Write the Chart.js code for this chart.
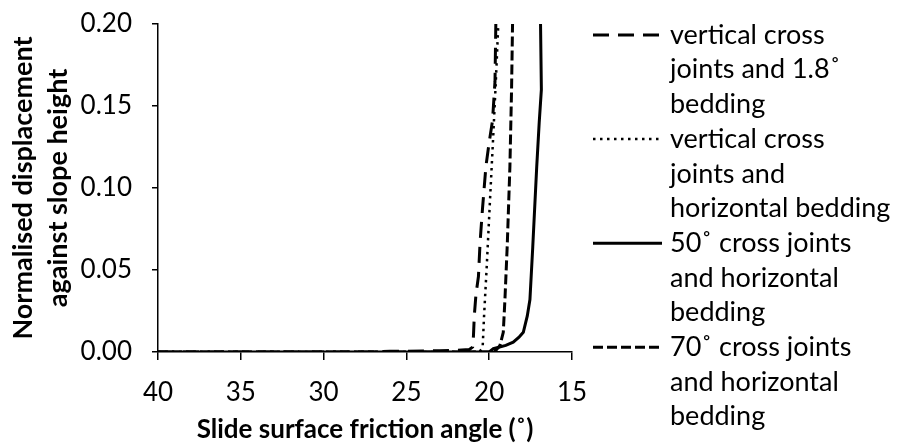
<!DOCTYPE html>
<html>
<head>
<meta charset="utf-8">
<script src="https://cdn.jsdelivr.net/npm/chart.js@4.4.1/dist/chart.umd.min.js"></script>
<style>
    html, body { margin: 0; padding: 0; background: #fff; }
</style>
</head>
<body>
<canvas id="myChart" width="898" height="448"></canvas>
<script>
// friction angle (deg) / normalised displacement
const angles1 = [40, 27, 26, 25, 24, 23, 22, 21.2, 21.0, 20.95, 20.9, 20.8, 20.65, 20.55, 20.4, 20.2, 20.0, 19.8, 19.65, 19.6];
const disp1 = [0, 0, 0.0005, 0.0005, 0.0006, 0.0008, 0.001, 0.0015, 0.003, 0.01, 0.022, 0.035, 0.046, 0.067, 0.088, 0.113, 0.128, 0.141, 0.165, 0.2];

const angles2 = [40, 20.6, 20.45, 20.39, 20.31, 20.15, 19.95, 19.75, 19.6, 19.45];
const disp2 = [0, 0, 0.002, 0.004, 0.022, 0.052, 0.093, 0.133, 0.165, 0.2];

const angles3 = [40, 20.0, 19.75, 19.0, 18.55, 18.2, 17.94, 17.7, 17.54, 17.37, 17.13, 16.98, 16.85, 16.9];
const disp3 = [0, 0, 0.002, 0.004, 0.006, 0.009, 0.012, 0.022, 0.032, 0.064, 0.113, 0.14, 0.16, 0.2];

const angles4 = [40, 20.0, 19.6, 19.35, 19.15, 19.05, 18.91, 18.75, 18.65, 18.59];
const disp4 = [0, 0, 0.001, 0.004, 0.012, 0.032, 0.065, 0.113, 0.16, 0.2];

const seriesNames = [
    "vertical cross joints and 1.8˚ bedding",
    "vertical cross joints and horizontal bedding",
    "50˚ cross joints and horizontal bedding",
    "70˚ cross joints and horizontal bedding"
];
const legendText = [
    ["vertical cross", "joints and 1.8˚", "bedding"],
    ["vertical cross", "joints and", "horizontal bedding"],
    ["50˚ cross joints", "and horizontal", "bedding"],
    ["70˚ cross joints", "and horizontal", "bedding"]
];
const xTicks = [40, 35, 30, 25, 20, 15];
const yTicks = [0, 0.05, 0.10, 0.15, 0.20];

function toPoints(xs, ys) {
    return xs.map((x, i) => ({ x: x, y: ys[i] }));
}

const lineStyle = {
    borderColor: 'black',
    backgroundColor: 'black',
    pointRadius: 0,
    fill: false,
    tension: 0
};

const data = {
    datasets: [
        Object.assign({ label: seriesNames[0], data: toPoints(angles1, disp1), borderWidth: 3, borderDash: [16, 9] }, lineStyle),
        Object.assign({ label: seriesNames[1], data: toPoints(angles2, disp2), borderWidth: 2.5, borderDash: [2.5, 4.5] }, lineStyle),
        Object.assign({ label: seriesNames[2], data: toPoints(angles3, disp3), borderWidth: 3, borderDash: [] }, lineStyle),
        Object.assign({ label: seriesNames[3], data: toPoints(angles4, disp4), borderWidth: 3, borderDash: [10, 4] }, lineStyle)
    ]
};

// legend drawn by hand so the labels can wrap like the original
const sideLegend = {
    id: 'sideLegend',
    afterDraw(chart) {
        const ctx = chart.ctx;
        ctx.save();
        ctx.font = '27px Lato';
        ctx.fillStyle = 'black';
        ctx.textBaseline = 'middle';
        let row = 0;
        chart.data.datasets.forEach((ds, i) => {
            const y = 35 + row * 34.7;
            ctx.strokeStyle = 'black';
            ctx.lineWidth = ds.borderWidth;
            ctx.setLineDash(ds.borderDash);
            ctx.beginPath();
            ctx.moveTo(593, y);
            ctx.lineTo(662, y);
            ctx.stroke();
            legendText[i].forEach(t => {
                ctx.fillText(t, 670, 35 + row * 34.7);
                row++;
            });
        });
        ctx.restore();
    }
};

const config = {
    type: 'line',
    data: data,
    options: {
        responsive: false,
        animation: false,
        layout: { padding: { left: 0, right: 326, top: 24, bottom: 0 } },
        plugins: {
            legend: { display: false },
            tooltip: { enabled: false }
        },
        scales: {
            x: {
                type: 'linear',
                reverse: true,
                min: 15,
                max: 40,
                afterBuildTicks: (scale) => { scale.ticks = xTicks.map(v => ({ value: v })); },
                afterFit: (scale) => { scale.height = 96; },
                grid: { drawOnChartArea: false, color: 'black', lineWidth: 1.5, tickLength: 8 },
                border: { color: 'black', width: 1.5 },
                ticks: { color: 'black', padding: 17, font: { family: 'Lato', size: 26 } },
                title: {
                    display: true,
                    text: "Slide surface friction angle (˚)",
                    color: 'black',
                    font: { family: 'Lato', size: 26, weight: 'bold' },
                    padding: { top: 0, bottom: 3 }
                }
            },
            y: {
                min: 0,
                max: 0.2,
                afterBuildTicks: (scale) => { scale.ticks = yTicks.map(v => ({ value: v })); },
                afterFit: (scale) => {
                    scale.width = 158;
                    scale.paddingTop = 0;
                    scale.paddingBottom = 0;
                },
                grid: { drawOnChartArea: false, color: 'black', lineWidth: 1.5, tickLength: 6 },
                border: { color: 'black', width: 1.5 },
                ticks: {
                    color: 'black',
                    padding: 20,
                    font: { family: 'Lato', size: 26 },
                    callback: (v) => v.toFixed(2)
                },
                title: {
                    display: true,
                    text: ["Normalised displacement", "against slope height"],
                    color: 'black',
                    font: { family: 'Lato', size: 27, weight: 'bold', lineHeight: 1.3 },
                    padding: { top: 6, bottom: 0 }
                }
            }
        }
    },
    plugins: [sideLegend]
};

const myChart = new Chart(document.getElementById('myChart'), config);
</script>
</body>
</html>
